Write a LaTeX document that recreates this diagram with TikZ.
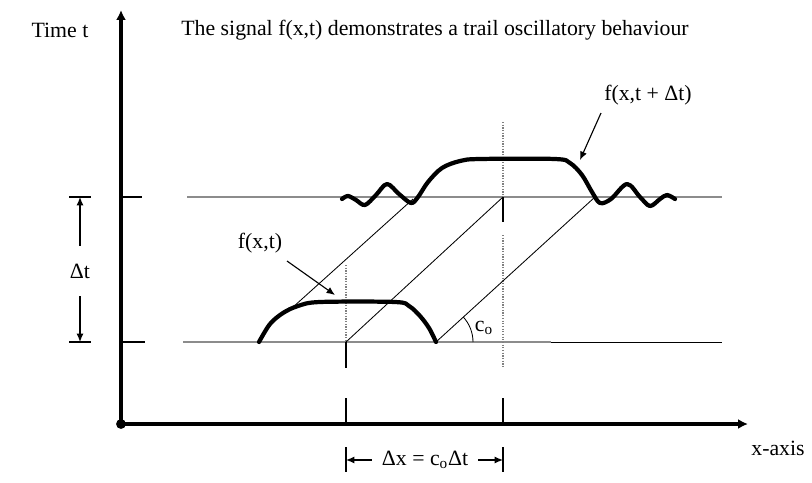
\documentclass[tikz,border=0pt]{standalone}
\usepackage{fontspec}
\setmainfont{Liberation Serif}
\usetikzlibrary{arrows.meta, positioning, calc}

\begin{document}
\begin{tikzpicture}[x=0.025cm, y=-0.025cm,
  axis/.style={line width=2.8pt, -{Latex[length=7pt, width=7pt]}},
  level/.style={draw=black!45, line width=1.2pt},
  pulse/.style={line width=3pt, line cap=round, line join=round},
  link/.style={line width=0.6pt},
  guide/.style={densely dotted, black!50, line width=0.9pt},
  stub/.style={line width=0.8pt},
  dim/.style={-{Latex[length=6pt, width=5pt]}, line width=0.8pt},
  txt/.style={font=\fontsize{15.5}{18}\selectfont, inner sep=1pt}
]
  \useasboundingbox (0,0) rectangle (812,482);

  % axes
  \coordinate (o) at (121,424);
  \coordinate (ytop) at (121,10);
  \coordinate (xend) at (748,424);
  \draw[axis] (o) -- (ytop);
  \draw[axis] (o) -- (xend);
  \fill (o) circle[radius=3.5pt];
  \node[txt] (timet) at (60,30) {Time t};
  \node[txt] (xaxis) at (778,448) {x-axis};
  \node[txt] (title) at (435,30) {The signal f(x,t) demonstrates a trail oscillatory behaviour};

  % time levels
  \draw[stub] (121,197) -- (142,197);
  \draw[stub] (121,342) -- (145,342);
  \draw[level] (187,197) -- (722,197);
  \draw[level] (183,342) -- (551,342);
  \draw[link] (551,342) -- (722,342);

  % delta t
  \node[txt, minimum height=1.25cm] (dt) at (80,271) {Δt};
  \coordinate (dtup) at (80,197);
  \coordinate (dtdown) at (80,342);
  \draw[stub] (69,197) -- (91,197);
  \draw[stub] (69,342) -- (91,342);
  \draw[dim] (dt.north) -- (dtup);
  \draw[dim] (dt.south) -- (dtdown);

  % guides
  \draw[guide] (346,265) -- (346,342);
  \draw[stub] (346,342) -- (346,368);
  \draw[stub] (346,398) -- (346,424);
  \draw[guide] (503,122) -- (503,197);
  \draw[stub] (503,197) -- (503,222);
  \draw[guide] (503,235) -- (503,367);
  \draw[stub] (503,398) -- (503,424);

  % characteristics
  \coordinate (a1) at (292,308);
  \coordinate (b1) at (413,199);
  \coordinate (a2) at (346,342);
  \coordinate (b2) at (503,197);
  \coordinate (a3) at (436,342);
  \coordinate (b3) at (595,197);
  \draw[link] (a1) -- (b1);
  \draw[link] (a2) -- (b2);
  \draw[link] (a3) -- (b3);
  \draw[link] ($(a3)+(37,0)$) arc[start angle=0, end angle=-42.7, radius=37];
  \node[txt] (co) at (484,328) {c\textsubscript{o}};

  % signals
  \draw[pulse] plot[smooth, tension=0.55] coordinates {(259,342) (270,324) (283,313) (298,306) (320,302) (395,302) (409,306) (420,316) (429,328) (436,342)};
  \draw[pulse] plot[smooth, tension=0.55] coordinates {(342,199) (348,196) (356,200) (365,205) (376,195) (387,184) (399,194) (411,203) (418,197) (428,182) (442,168) (460,161) (480,159) (555,159) (570,163) (582,175) (592,192) (600,203) (611,199) (627,184) (640,197) (650,206) (660,199) (667,195) (675,199)};

  % signal labels
  \node[txt] (fxt) at (260,243) {f(x,t)};
  \coordinate (fxtfrom) at (287,261);
  \coordinate (fxtto) at (335,295);
  \draw[dim] (fxtfrom) -- (fxtto);
  \node[txt] (fxtdt) at (648,95) {f(x,t + Δt)};
  \coordinate (fdtfrom) at (601,113);
  \coordinate (fdtto) at (580,160);
  \draw[dim] (fdtfrom) -- (fdtto);

  % delta x
  \draw[stub] (346,447) -- (346,472);
  \draw[stub] (503,447) -- (503,472);
  \node[txt, minimum width=2.65cm] (dx) at (425,460) {Δx = c\textsubscript{o}Δt};
  \coordinate (dxl) at (346,460);
  \coordinate (dxr) at (503,460);
  \draw[dim] (dx.west) -- (dxl);
  \draw[dim] (dx.east) -- (dxr);
\end{tikzpicture}
\end{document}
